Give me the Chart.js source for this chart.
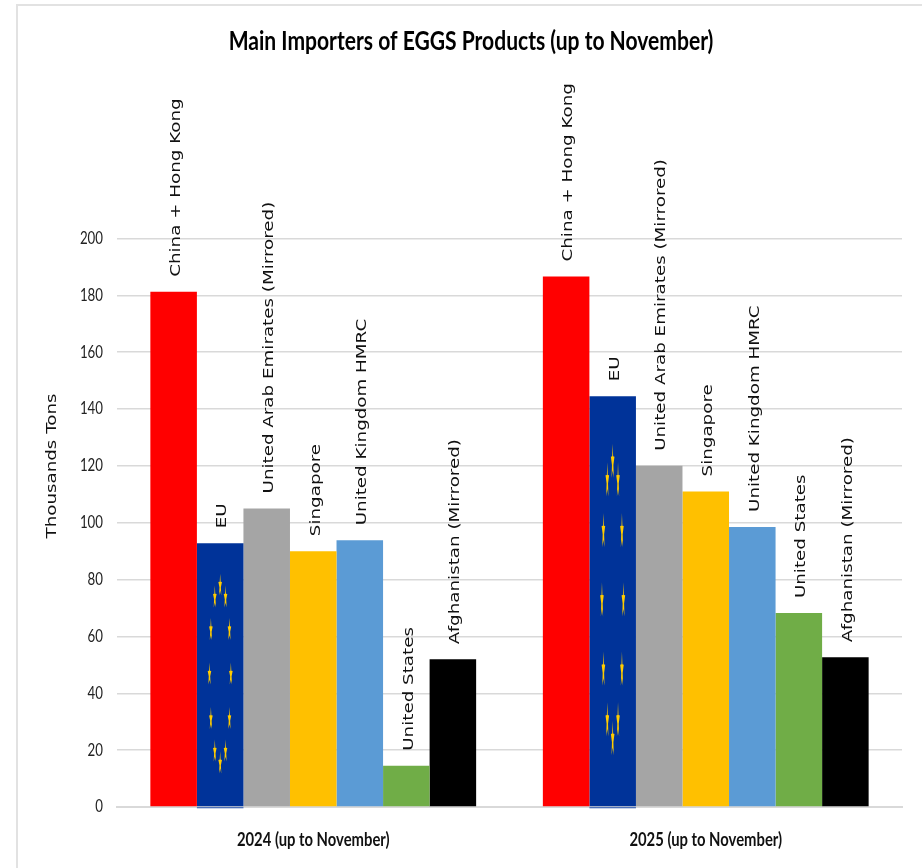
<!DOCTYPE html>
<html>
<head>
<meta charset="utf-8">
<title>Main Importers of EGGS Products</title>
<script src="https://cdn.jsdelivr.net/npm/chart.js@4"></script>
<style>
  html, body { margin: 0; padding: 0; background: #fff; }
  #frame { position: absolute; left: 16px; top: 4px; right: 0; bottom: 0; border-left: 2px solid #e2e2e2; border-top: 2px solid #e2e2e2; }
  #myChart { position: absolute; left: 0; top: 0; }
</style>
</head>
<body>
<div id="frame"></div>
<canvas id="myChart" width="922" height="868"></canvas>
<script>
const periods = ['2024 (up to November)', '2025 (up to November)'];
const yTicks = [0, 20, 40, 60, 80, 100, 120, 140, 160, 180, 200];

const china = [181.2, 186.6];
const eu = [92.8, 144.5];
const uae = [105, 120];
const singapore = [90, 111];
const uk = [93.8, 98.5];
const us = [14.5, 68.2];
const afghanistan = [52, 52.7];

const canvas = document.getElementById('myChart');
const ctx = canvas.getContext('2d');

// the original picture is stretched: Lato stands in for a squeezed Calibri, DejaVu for a wide Verdana
const plainFill = ctx.fillText.bind(ctx);
ctx.fillText = function(text, x, y) {
  const sx = ctx.font.includes('Lato') ? 0.78 : 1.26;
  ctx.save();
  ctx.translate(x, y);
  ctx.scale(sx, 1);
  plainFill(text, 0, 0);
  ctx.restore();
};

// country names stood on end above each bar, plus the off-centre axis title
const barNames = {
  id: 'barNames',
  afterDatasetsDraw(chart) {
    ctx.save();
    ctx.font = '14.5px "DejaVu Sans"';
    ctx.fillStyle = '#111';
    ctx.textAlign = 'left';
    ctx.textBaseline = 'middle';
    chart.data.datasets.forEach(function(ds, i) {
      chart.getDatasetMeta(i).data.forEach(function(bar) {
        ctx.save();
        ctx.translate(bar.x + 2.5, bar.y - 15);
        ctx.rotate(-Math.PI / 2);
        ctx.fillText(ds.label, 0, 0);
        ctx.restore();
      });
    });
    ctx.translate(52, 466);
    ctx.rotate(-Math.PI / 2);
    ctx.textAlign = 'center';
    ctx.fillText('Thousands Tons', 0, 0);
    ctx.restore();
  }
};

// EU flag stars, stretched with the bar like the picture fill in the original
const euStars = {
  id: 'euStars',
  afterDatasetsDraw(chart) {
    chart.getDatasetMeta(1).data.forEach(function(bar) {
      const h = bar.base - bar.y;
      const cx = bar.x;
      const cy = bar.y + h / 2;
      ctx.save();
      ctx.fillStyle = '#1f4fae';
      ctx.fillRect(cx - bar.width / 2, bar.base + 1, bar.width, 1);
      ctx.fillStyle = '#ffcc00';
      for (let k = 0; k < 12; k++) {
        const a = k * Math.PI / 6;
        ctx.save();
        ctx.translate(cx + Math.sin(a) * bar.width * 0.23, cy - Math.cos(a) * h * 0.338);
        ctx.scale(0.17, h * 0.0042);
        ctx.beginPath();
        for (let p = 0; p < 10; p++) {
          const r = p % 2 ? 4.5 : 11;
          const t = p * Math.PI / 5;
          ctx.lineTo(Math.sin(t) * r, -Math.cos(t) * r);
        }
        ctx.closePath();
        ctx.fill();
        ctx.restore();
      }
      ctx.restore();
    });
  }
};

new Chart(ctx, {
  type: 'bar',
  data: {
    labels: periods,
    datasets: [
      { label: 'China + Hong Kong', data: china, backgroundColor: '#ff0000' },
      { label: 'EU', data: eu, backgroundColor: '#003399' },
      { label: 'United Arab Emirates (Mirrored)', data: uae, backgroundColor: '#a5a5a5' },
      { label: 'Singapore', data: singapore, backgroundColor: '#ffc000' },
      { label: 'United Kingdom HMRC', data: uk, backgroundColor: '#5b9bd5' },
      { label: 'United States', data: us, backgroundColor: '#70ad47' },
      { label: 'Afghanistan (Mirrored)', data: afghanistan, backgroundColor: '#000000' }
    ]
  },
  plugins: [barNames, euStars],
  options: {
    responsive: false,
    animation: false,
    devicePixelRatio: 1,
    layout: { padding: { left: 40, right: 20, top: 0, bottom: 0 } },
    datasets: { bar: { barPercentage: 1, categoryPercentage: 0.83 } },
    plugins: {
      legend: { display: false },
      tooltip: { enabled: false },
      title: {
        display: true,
        text: 'Main Importers of EGGS Products (up to November)',
        color: '#000',
        font: { family: 'Lato', size: 27, weight: 'bold' },
        padding: { top: 25, bottom: 181 }
      }
    },
    scales: {
      x: {
        afterFit(axis) { axis.height = 61; },
        grid: { display: false, drawTicks: false },
        border: { color: '#d9d9d9', width: 2 },
        ticks: { color: '#111', padding: 21, maxRotation: 0, font: { family: 'Lato', size: 19, weight: 'bold' } }
      },
      y: {
        min: 0,
        max: 200,
        afterBuildTicks(axis) { axis.ticks = yTicks.map(function(v) { return { value: v }; }); },
        afterFit(axis) { axis.width = 77; },
        grid: { color: '#d9d9d9', lineWidth: 1.5, drawTicks: false },
        border: { display: false },
        ticks: { color: '#222', padding: 14, font: { family: 'Lato', size: 17 } }
      }
    }
  }
});
</script>
</body>
</html>
